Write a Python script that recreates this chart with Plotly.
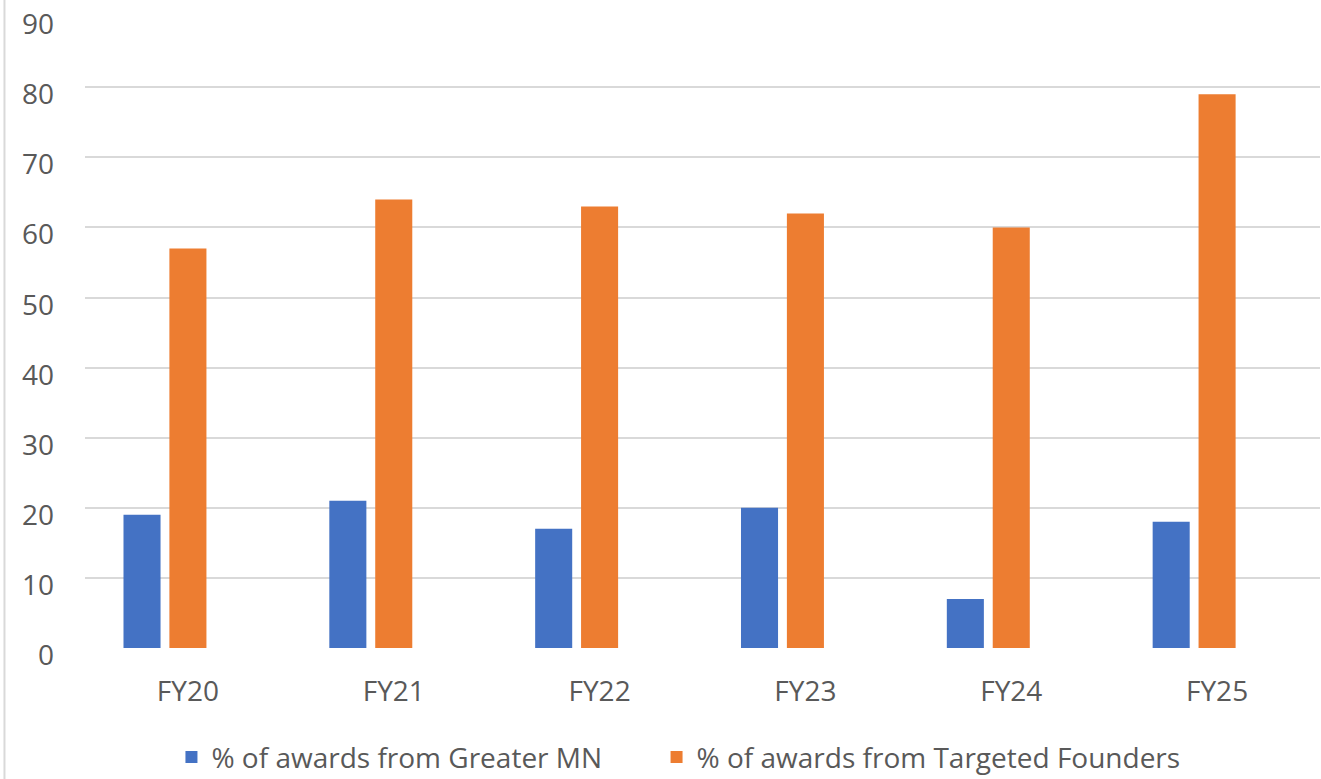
import plotly.graph_objects as go

# Fiscal-year award shares
years = ["FY20", "FY21", "FY22", "FY23", "FY24", "FY25"]
greater_mn = [19, 21, 17, 20, 7, 18]
targeted_founders = [57, 64, 63, 62, 60, 79]
y_ticks = [0, 10, 20, 30, 40, 50, 60, 70, 80, 90]

BLUE = "#4472C4"
ORANGE = "#ED7D31"
GRID = "#D9D9D9"
TEXT = "#595959"
FONT = "Open Sans"

fig = go.Figure()
fig.add_trace(go.Bar(
    x=years, y=greater_mn, name="% of awards from Greater MN",
    marker=dict(color=BLUE, line_width=0), width=0.18, offset=-0.313,
    legend="legend",
))
fig.add_trace(go.Bar(
    x=years, y=targeted_founders, name="% of awards from Targeted Founders",
    marker=dict(color=ORANGE, line_width=0), width=0.18, offset=-0.09,
    legend="legend2",
))

# thin frame line along the left edge of the chart area
fig.add_shape(type="line", xref="paper", yref="paper",
              x0=-0.0652, x1=-0.0652, y0=-0.3, y1=1.05,
              line=dict(color=GRID, width=2))

# value-axis labels sit slightly below their gridlines
for v in y_ticks:
    fig.add_annotation(
        x=-0.0235, xref="paper", xanchor="right",
        y=v, yref="y", yanchor="middle", yshift=-6,
        text=str(v), showarrow=False,
        font=dict(family=FONT, size=28, color=TEXT),
    )

legend_style = dict(
    orientation="h", xanchor="left",
    yref="container", y=0.028, yanchor="middle",
    font=dict(size=28, color=TEXT),
    bgcolor="rgba(0,0,0,0)",
)

fig.update_layout(
    width=1321, height=779,
    margin=dict(l=85, r=1, t=17, b=131, autoexpand=False),
    paper_bgcolor="white", plot_bgcolor="white",
    font=dict(family=FONT, size=28, color=TEXT),
    barmode="overlay",
    showlegend=True,
    legend=dict(x=0.07, **legend_style),
    legend2=dict(x=0.4628, **legend_style),
    xaxis=dict(
        type="category", range=[-0.5, 5.5],
        showgrid=False, showline=False, zeroline=False,
        ticks="", ticklabelstandoff=24, automargin=False,
    ),
    yaxis=dict(
        range=[0, 90.03], tickvals=y_ticks,
        showgrid=True, gridcolor=GRID, gridwidth=2,
        zeroline=False, showline=False,
        ticks="", showticklabels=False, automargin=False,
    ),
)

fig.write_html("out.html")
